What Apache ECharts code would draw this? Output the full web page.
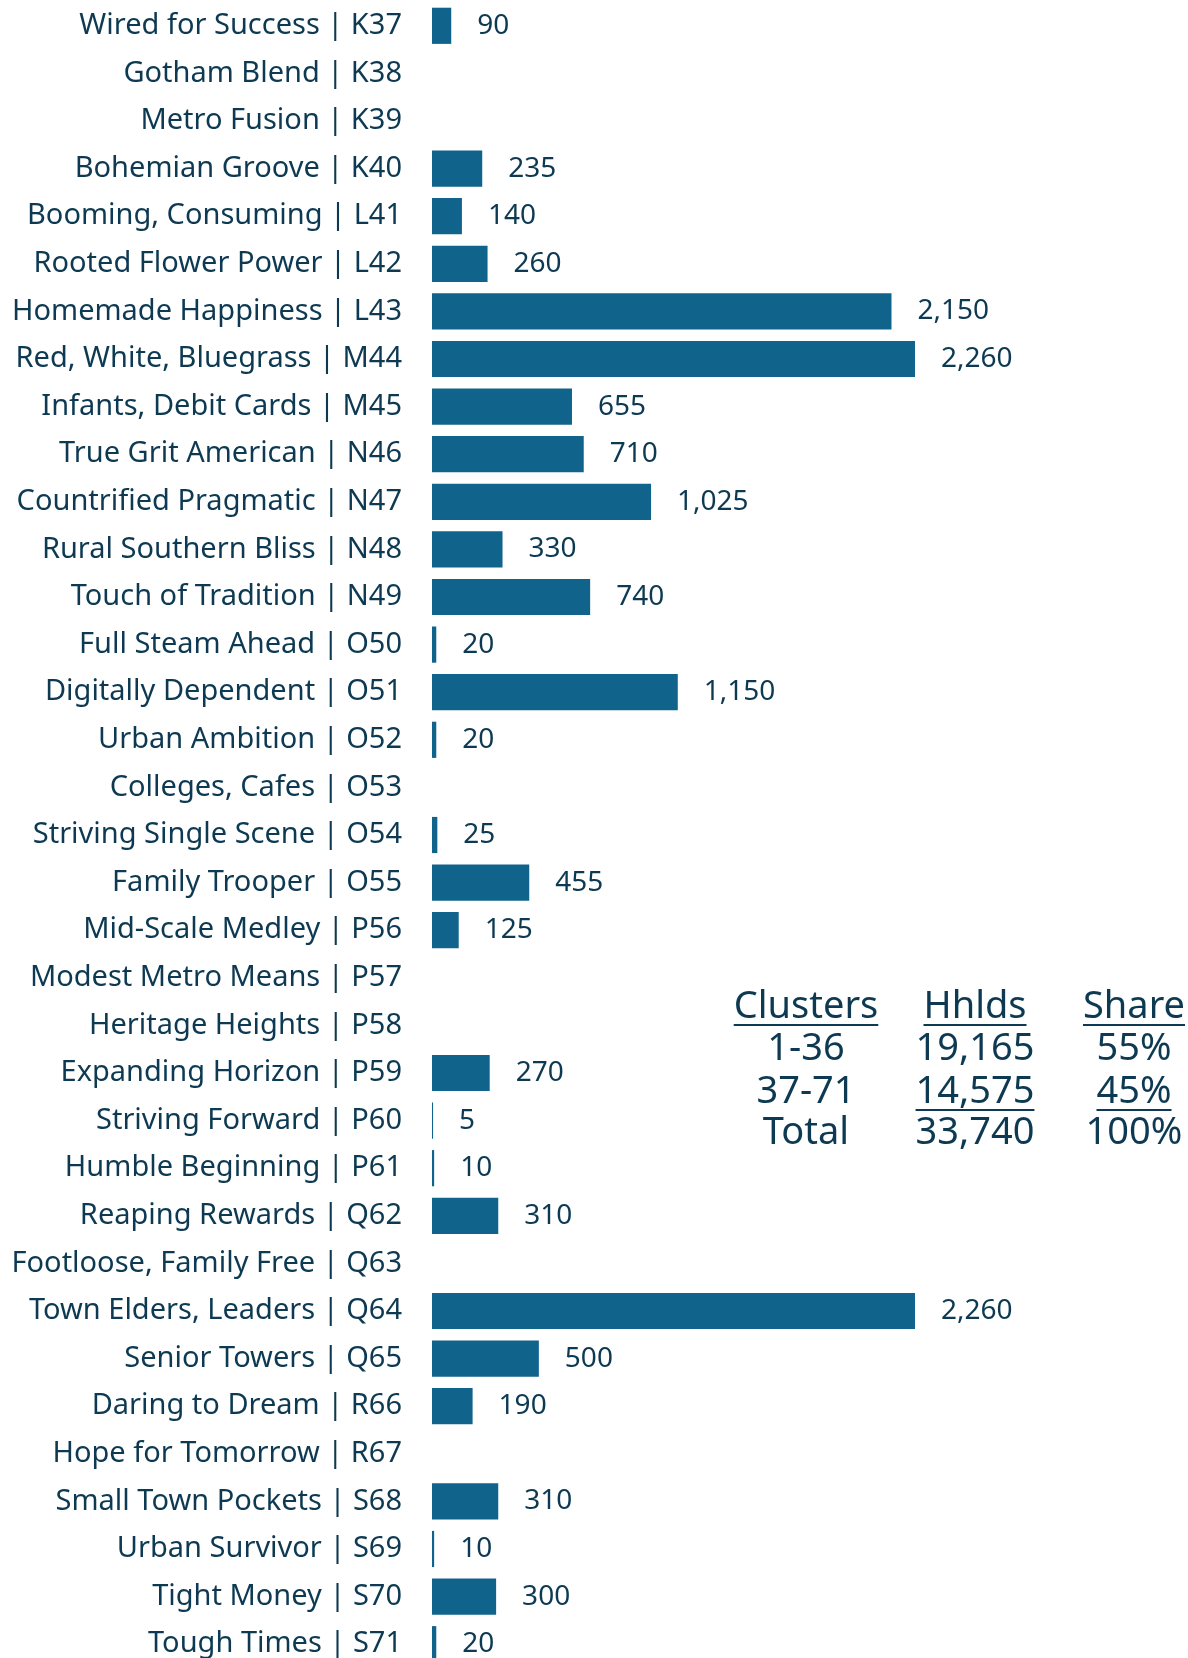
<!DOCTYPE html>
<html>
<head>
<meta charset="utf-8">
<script src="https://cdn.jsdelivr.net/npm/echarts@6/dist/echarts.min.js"></script>
<style>
  html, body { margin: 0; padding: 0; background: #fff; overflow: hidden; }
  #chart { width: 1188px; height: 1700px; }
</style>
</head>
<body>
<div id="chart"></div>
<script>
// segments and households (null = no households)
var categories = [
  'Wired for Success | K37', 'Gotham Blend | K38', 'Metro Fusion | K39', 'Bohemian Groove | K40',
  'Booming, Consuming | L41', 'Rooted Flower Power | L42', 'Homemade Happiness | L43',
  'Red, White, Bluegrass | M44', 'Infants, Debit Cards | M45', 'True Grit American | N46',
  'Countrified Pragmatic | N47', 'Rural Southern Bliss | N48', 'Touch of Tradition | N49',
  'Full Steam Ahead | O50', 'Digitally Dependent | O51', 'Urban Ambition | O52',
  'Colleges, Cafes | O53', 'Striving Single Scene | O54', 'Family Trooper | O55',
  'Mid-Scale Medley | P56', 'Modest Metro Means | P57', 'Heritage Heights | P58',
  'Expanding Horizon | P59', 'Striving Forward | P60', 'Humble Beginning | P61',
  'Reaping Rewards | Q62', 'Footloose, Family Free | Q63', 'Town Elders, Leaders | Q64',
  'Senior Towers | Q65', 'Daring to Dream | R66', 'Hope for Tomorrow | R67',
  'Small Town Pockets | S68', 'Urban Survivor | S69', 'Tight Money | S70', 'Tough Times | S71'
];
var households = [
  90, null, null, 235, 140, 260, 2150, 2260, 655, 710, 1025, 330, 740, 20, 1150, 20,
  null, 25, 455, 125, null, null, 270, 5, 10, 310, null, 2260, 500, 190, null, 310, 10, 300, 20
];

// summary table
var tableHeader = ['Clusters', 'Hhlds', 'Share'];
var tableRows = [
  ['1-36', '19,165', '55%'],
  ['37-71', '14,575', '45%'],
  ['Total', '33,740', '100%']
];
var underlinedCells = [[1, 1], [1, 2]];

var FONT = 'Noto Sans';
var TEXT_COLOR = '#0d3a52';
var BAR_COLOR = '#10638a';

var chart = echarts.init(document.getElementById('chart'));

// table drawing
var colX = [806, 975, 1134];
var rowY = [1007, 1049, 1092, 1133];
var tableFontSize = 38;
var measure = document.createElement('canvas').getContext('2d');
measure.font = tableFontSize + 'px "' + FONT + '"';

var graphics = [];
function addCell(txt, x, y, underline) {
  graphics.push({
    type: 'text', x: x, y: y,
    style: {
      text: txt, fill: TEXT_COLOR, font: tableFontSize + 'px "' + FONT + '"',
      textAlign: 'center', textVerticalAlign: 'middle'
    }
  });
  if (underline) {
    var w = measure.measureText(txt).width;
    graphics.push({
      type: 'rect',
      shape: { x: x - w / 2, y: y + 17, width: w, height: 2 },
      style: { fill: TEXT_COLOR }
    });
  }
}
tableHeader.forEach(function (h, i) { addCell(h, colX[i], rowY[0], true); });
tableRows.forEach(function (row, r) {
  row.forEach(function (c, i) {
    var ul = underlinedCells.some(function (u) { return u[0] === r && u[1] === i; });
    addCell(c, colX[i], rowY[r + 1], ul);
  });
});

chart.setOption({
  animation: false,
  grid: { left: 432, top: 2, width: 483, height: 1666 },
  xAxis: { type: 'value', min: 0, max: 2260, show: false },
  yAxis: {
    type: 'category', data: categories, inverse: true,
    axisLine: { show: false }, axisTick: { show: false },
    axisLabel: { color: TEXT_COLOR, fontFamily: FONT, fontSize: 29, margin: 30 }
  },
  series: [{
    type: 'bar', data: households, barCategoryGap: '24%',
    itemStyle: { color: BAR_COLOR },
    label: {
      show: true, position: 'right', distance: 26,
      color: TEXT_COLOR, fontFamily: FONT, fontSize: 28,
      formatter: function (p) { return p.value == null ? '' : p.value.toLocaleString('en-US'); }
    }
  }],
  graphic: graphics
});
</script>
</body>
</html>
